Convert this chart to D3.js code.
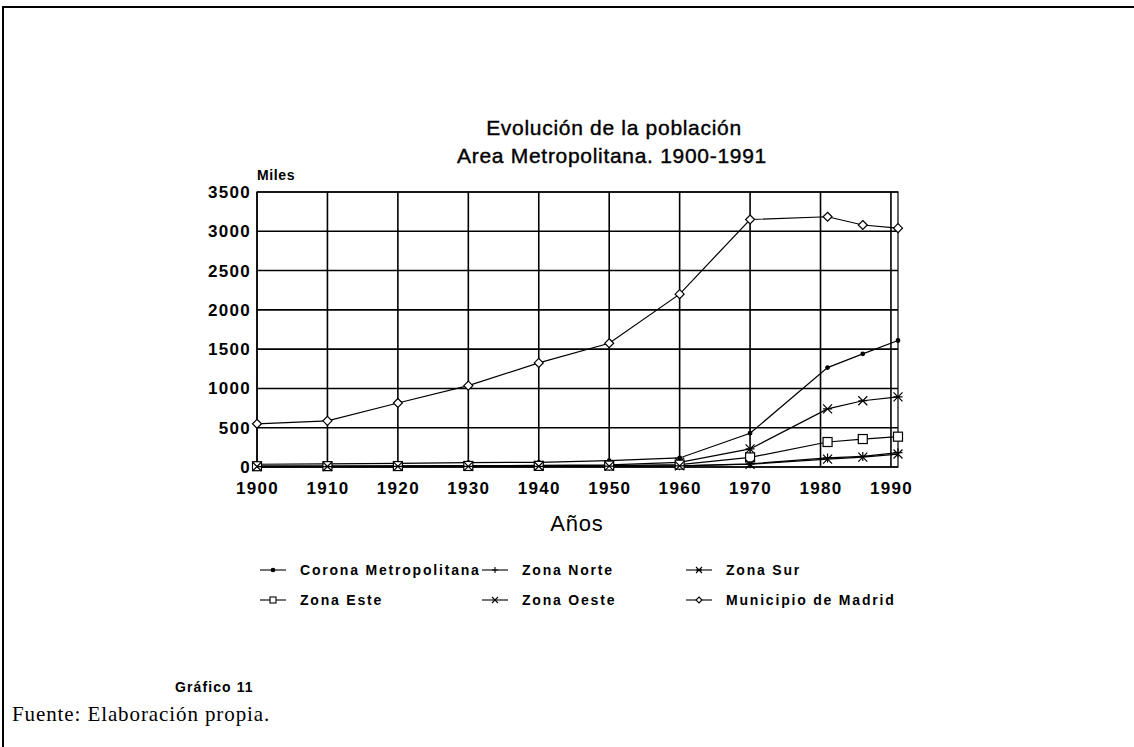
<!DOCTYPE html>
<html>
<head>
<meta charset="utf-8">
<script src="https://cdn.jsdelivr.net/npm/d3@7"></script>
<style>
  body { margin: 0; background: #fff; }
  svg { display: block; }
</style>
</head>
<body>
<svg id="chart"></svg>
<script>
let width = 1134;
let height = 747;

// years of the census points
const years = [1900, 1910, 1920, 1930, 1940, 1950, 1960, 1970, 1981, 1986, 1991];

// population, thousands
const corona = [35, 40, 45, 55, 60, 80, 115, 430, 1265, 1440, 1610];
const norte  = [5, 5, 6, 7, 8, 10, 15, 40, 115, 135, 182];
const sur    = [12, 13, 15, 18, 20, 28, 60, 230, 740, 843, 892];
const este   = [10, 11, 12, 13, 14, 18, 30, 122, 318, 356, 386];
const oeste  = [6, 6, 7, 8, 9, 12, 15, 35, 100, 125, 165];
const madrid = [550, 588, 815, 1035, 1325, 1575, 2200, 3150, 3185, 3080, 3040];

const seriesNames = ["Corona Metropolitana", "Zona Norte", "Zona Sur",
                     "Zona Este", "Zona Oeste", "Municipio de Madrid"];
const seriesValues = [corona, norte, sur, este, oeste, madrid];
const seriesMarks = ["dot", "plus", "star", "square", "cross", "diamond"];

const xTicks = [1900, 1910, 1920, 1930, 1940, 1950, 1960, 1970, 1980, 1990];
const yTicks = [0, 500, 1000, 1500, 2000, 2500, 3000, 3500];

let margin = ({top: 192, right: 236, bottom: 280, left: 257});

const svg = d3.select("#chart")
    .attr("width", width)
    .attr("height", height)
    .attr("viewBox", [0, 0, width, height]);

const sans = "'Liberation Sans', Arial, Helvetica, sans-serif";

// page frame (top and left edges only)
svg.append("path")
    .attr("d", `M3,${height}V7H${width}`)
    .attr("fill", "none")
    .attr("stroke", "#000")
    .attr("stroke-width", 2);

let x = d3.scaleLinear()
    .domain([1900, 1991])
    .range([margin.left, width - margin.right]);

let y = d3.scaleLinear()
    .domain([0, 3500])
    .range([height - margin.bottom, margin.top]);

// grid
const grid = svg.append("g")
    .attr("stroke", "#000")
    .attr("stroke-width", 1.6);

grid.selectAll("line.v")
    .data(xTicks)
    .join("line")
    .attr("class", "v")
    .attr("x1", d => x(d)).attr("x2", d => x(d))
    .attr("y1", y(3500)).attr("y2", y(0));

grid.selectAll("line.h")
    .data(yTicks)
    .join("line")
    .attr("class", "h")
    .attr("x1", x(1900)).attr("x2", x(1991))
    .attr("y1", d => y(d)).attr("y2", d => y(d));

grid.append("rect")
    .attr("x", x(1900)).attr("y", y(3500))
    .attr("width", x(1991) - x(1900))
    .attr("height", y(0) - y(3500))
    .attr("fill", "none")
    .attr("stroke-width", 1.2);

// axes labels
let yAxis = g => g
    .attr("transform", `translate(${x(1900)},0)`)
    .call(d3.axisLeft(y).tickValues(yTicks).tickFormat(d3.format("d")).tickSize(0).tickPadding(6))
    .call(g => g.select(".domain").remove())
    .call(g => g.selectAll("text")
        .attr("font-family", sans)
        .attr("font-size", 17)
        .attr("font-weight", "bold")
        .attr("letter-spacing", 1.3)
        .attr("fill", "#000"));

let xAxis = g => g
    .attr("transform", `translate(0,${y(0)})`)
    .call(d3.axisBottom(x).tickValues(xTicks).tickFormat(d3.format("d")).tickSize(0).tickPadding(15))
    .call(g => g.select(".domain").remove())
    .call(g => g.selectAll("text")
        .attr("font-family", sans)
        .attr("font-size", 17)
        .attr("font-weight", "bold")
        .attr("letter-spacing", 1.3)
        .attr("fill", "#000"));

svg.append("g").call(yAxis);
svg.append("g").call(xAxis);

// marker shapes
function marker(g, type, s) {
    if (type === "dot") {
        g.append("circle").attr("r", 1.8).attr("fill", "#000");
    } else if (type === "plus") {
        g.append("path").attr("d", `M${-s},0H${s}M0,${-s}V${s}`);
    } else if (type === "cross") {
        g.append("path").attr("d", `M${-s},${-s}L${s},${s}M${-s},${s}L${s},${-s}`);
    } else if (type === "star") {
        g.append("path").attr("d", `M${-s},${-s}L${s},${s}M${-s},${s}L${s},${-s}M${-s},0H${s}`);
    } else if (type === "square") {
        g.append("rect").attr("x", -s).attr("y", -s).attr("width", 2 * s).attr("height", 2 * s)
            .attr("fill", "#fff");
    } else if (type === "diamond") {
        g.append("path").attr("d", `M0,${-s}L${s},0L0,${s}L${-s},0Z`).attr("fill", "#fff");
    }
}

const line = d3.line()
    .x(d => x(d.year))
    .y(d => y(d.value));

seriesNames.forEach((name, i) => {
    const data = years.map((yr, j) => ({year: yr, value: seriesValues[i][j]}));
    const g = svg.append("g")
        .attr("fill", "none")
        .attr("stroke", "#000")
        .attr("stroke-width", 1.2);
    g.append("path").attr("d", line(data));
    g.selectAll("g")
        .data(data)
        .join("g")
        .attr("transform", d => `translate(${x(d.year)},${y(d.value)})`)
        .each(function () { marker(d3.select(this), seriesMarks[i], 4.5); });
});

// titles
const title = svg.append("g")
    .attr("text-anchor", "middle")
    .attr("font-family", sans)
    .attr("font-size", 21)
    .attr("letter-spacing", 0.7)
    .attr("stroke", "#000")
    .attr("stroke-width", 0.4);

title.append("text")
    .attr("x", 614).attr("y", 135)
    .text("Evolución de la población");

title.append("text")
    .attr("x", 612).attr("y", 163)
    .text("Area Metropolitana. 1900-1991");

svg.append("text")
    .attr("x", 257).attr("y", 180)
    .attr("font-family", sans)
    .attr("font-size", 14)
    .attr("font-weight", "bold")
    .attr("letter-spacing", 0.6)
    .text("Miles");

svg.append("text")
    .attr("x", 577).attr("y", 531)
    .attr("text-anchor", "middle")
    .attr("font-family", sans)
    .attr("font-size", 22)
    .attr("letter-spacing", 0.8)
    .text("Años");

// legend
const legendX = [260, 482, 686];
const legendY = [570, 600];
const legend = svg.append("g");
seriesNames.forEach((name, i) => {
    const col = i % 3, row = Math.floor(i / 3);
    const lx = legendX[col], ly = legendY[row];
    const item = legend.append("g")
        .attr("transform", `translate(${lx},${ly})`);
    const m = item.append("g")
        .attr("fill", "none")
        .attr("stroke", "#000")
        .attr("stroke-width", 1.1);
    m.append("line").attr("x1", 0).attr("x2", 26).attr("y1", 0).attr("y2", 0);
    const mm = m.append("g").attr("transform", "translate(13,0)");
    marker(mm, seriesMarks[i], 3);
    item.append("text")
        .attr("x", 40).attr("y", 5)
        .attr("font-family", sans)
        .attr("font-size", 14)
        .attr("font-weight", "bold")
        .attr("letter-spacing", 1.8)
        .text(name);
});

svg.append("text")
    .attr("x", 175).attr("y", 692)
    .attr("font-family", sans)
    .attr("font-size", 14)
    .attr("font-weight", "bold")
    .attr("letter-spacing", 1.1)
    .text("Gráfico 11");

svg.append("text")
    .attr("x", 12).attr("y", 721)
    .attr("font-family", "'Liberation Serif', 'Times New Roman', serif")
    .attr("font-size", 21)
    .attr("letter-spacing", 0.9)
    .text("Fuente: Elaboración propia.");
</script>
</body>
</html>
